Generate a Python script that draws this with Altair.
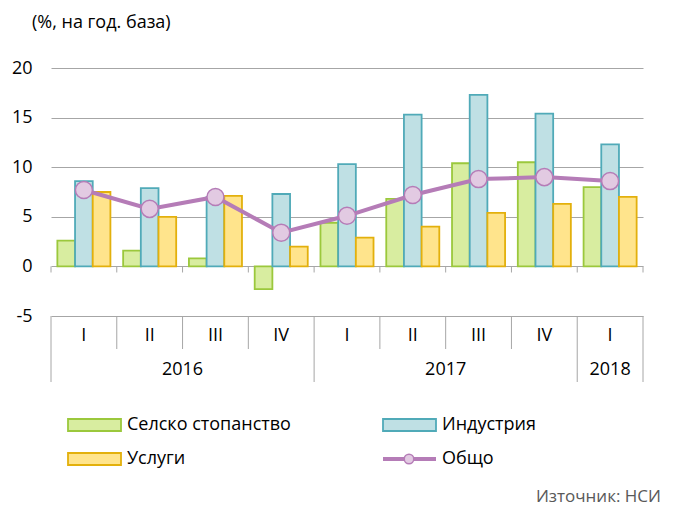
import altair as alt
import pandas as pd

# ---- data ----
quarters = ["I", "II", "III", "IV", "I", "II", "III", "IV", "I"]
years = ["2016", "2016", "2016", "2016", "2017", "2017", "2017", "2017", "2018"]
agriculture = [2.6, 1.6, 0.8, -2.3, 4.4, 6.8, 10.4, 10.5, 8.0]
industry = [8.6, 7.9, 7.0, 7.3, 10.3, 15.3, 17.3, 15.4, 12.3]
services = [7.5, 5.0, 7.1, 2.0, 2.9, 4.0, 5.4, 6.3, 7.0]
total = [7.7, 5.8, 7.0, 3.4, 5.1, 7.2, 8.8, 9.0, 8.6]
series_names = ["Селско стопанство", "Индустрия", "Услуги"]
total_name = "Общо"
y_ticks = [-5, 0, 5, 10, 15, 20]
title_text = "(%, на год. база)"
source_text = "Източник: НСИ"

# ---- styles ----
FONT = "Open Sans"
FS = 18
fills = ["#d8eda0", "#bfe0e4", "#ffe48c"]
strokes = ["#9bc83c", "#50aab8", "#e3b00c"]
line_color = "#b57cb7"
point_fill = "#e2cae2"
grid_color = "#a6a6a6"

cats = [f"{y}-{q}" for y, q in zip(years, quarters)]
vals = [agriculture, industry, services]

bars_df = pd.DataFrame(
    [{"cat": c, "series": s, "value": v[i]}
     for s, v in zip(series_names, vals) for i, c in enumerate(cats)]
)
total_df = pd.DataFrame({"cat": cats, "value": total})
cat_df = pd.DataFrame({"cat": cats, "quarter": quarters, "year": years})

x_scale = alt.Scale(domain=cats, paddingInner=0, paddingOuter=0)
xoff_scale = alt.Scale(domain=series_names, paddingInner=0, paddingOuter=0.36)
y_scale = alt.Scale(domain=[-5, 20], nice=False, zero=False)
y_axis = alt.Axis(values=y_ticks, grid=True, gridColor=grid_color, gridWidth=1,
                  domain=False, ticks=False, labelFontSize=FS, labelFont=FONT,
                  labelColor="#000000", labelPadding=19, title=None,
                  labelExpr="'' + datum.value")


def X(bp=0.5):
    return alt.X("cat:N", scale=x_scale, axis=None, bandPosition=bp)


def Y(field="value"):
    return alt.Y(f"{field}:Q", scale=y_scale, axis=y_axis)


bars = alt.Chart(bars_df).mark_bar(strokeWidth=1.8).encode(
    x=alt.X("cat:N", scale=x_scale, axis=None),
    xOffset=alt.XOffset("series:N", scale=xoff_scale),
    y=Y(),
    y2=alt.datum(0),
    fill=alt.Fill("series:N", scale=alt.Scale(domain=series_names, range=fills), legend=None),
    stroke=alt.Stroke("series:N", scale=alt.Scale(domain=series_names, range=strokes), legend=None),
)

line = alt.Chart(total_df).mark_line(color=line_color, strokeWidth=4).encode(
    x=X(), y=Y()
)
points = alt.Chart(total_df).mark_point(
    shape="circle", filled=True, fill=point_fill, stroke=line_color,
    strokeWidth=1.5, size=290, opacity=1
).encode(x=X(), y=Y())

# ticks on the zero line at category boundaries
ticks_a = alt.Chart(cat_df).mark_rule(color=grid_color).encode(
    x=X(0), y=alt.value(198.4), y2=alt.value(204.5)
)
ticks_b = alt.Chart(cat_df.tail(1)).mark_rule(color=grid_color).encode(
    x=X(1), y=alt.value(198.4), y2=alt.value(204.5)
)

# category table below the plot
q_sep = alt.Chart(cat_df[cat_df["quarter"] != "I"]).mark_rule(color=grid_color).encode(
    x=X(0), y=alt.value(248), y2=alt.value(281)
)
y_sep_a = alt.Chart(cat_df[cat_df["quarter"] == "I"]).mark_rule(color=grid_color).encode(
    x=X(0), y=alt.value(248), y2=alt.value(314)
)
y_sep_b = alt.Chart(cat_df.tail(1)).mark_rule(color=grid_color).encode(
    x=X(1), y=alt.value(248), y2=alt.value(314)
)
q_text = alt.Chart(cat_df).mark_text(fontSize=FS, font=FONT, color="#000000", baseline="middle").encode(
    x=X(), y=alt.value(268), text="quarter:N"
)
year_full = cat_df[cat_df["quarter"] == "III"]
year_text_a = alt.Chart(year_full).mark_text(fontSize=FS, font=FONT, color="#000000", baseline="middle").encode(
    x=X(0), y=alt.value(302), text="year:N"
)
year_part = cat_df[(cat_df["quarter"] == "I") & (cat_df["year"] == years[-1])]
year_text_b = alt.Chart(year_part).mark_text(fontSize=FS, font=FONT, color="#000000", baseline="middle").encode(
    x=X(0.5), y=alt.value(302), text="year:N"
)

# title and source
title = alt.Chart(pd.DataFrame({"t": [title_text]})).mark_text(
    fontSize=FS, font=FONT, color="#000000", align="left", baseline="middle"
).encode(x=alt.value(-19), y=alt.value(-45), text="t:N")
source = alt.Chart(pd.DataFrame({"t": [source_text]})).mark_text(
    fontSize=17, font=FONT, color="#595959", align="right", baseline="alphabetic"
).encode(x=alt.value(610), y=alt.value(434), text="t:N")

# legend (manual, 2 columns)
legend_layers = []
legend_pos = [(17, 357), (332, 357), (17, 391)]
for name, f, s, (lx, ly) in zip(series_names, fills, strokes, legend_pos):
    d = pd.DataFrame({"label": [name]})
    legend_layers.append(alt.Chart(d).mark_rect(fill=f, stroke=s, strokeWidth=1.8).encode(
        x=alt.value(lx), x2=alt.value(lx + 53), y=alt.value(ly - 6), y2=alt.value(ly + 6)))
    legend_layers.append(alt.Chart(d).mark_text(
        fontSize=FS, font=FONT, color="#000000", align="left", baseline="middle"
    ).encode(x=alt.value(lx + 59), y=alt.value(ly), text="label:N"))
dl = pd.DataFrame({"label": [total_name]})
legend_layers.append(alt.Chart(dl).mark_rule(color=line_color, strokeWidth=4).encode(
    x=alt.value(332), x2=alt.value(385), y=alt.value(391)))
legend_layers.append(alt.Chart(dl).mark_point(
    shape="circle", filled=True, fill=point_fill, stroke=line_color,
    strokeWidth=1.5, size=90, opacity=1).encode(x=alt.value(358), y=alt.value(391)))
legend_layers.append(alt.Chart(dl).mark_text(
    fontSize=FS, font=FONT, color="#000000", align="left", baseline="middle"
).encode(x=alt.value(391), y=alt.value(391), text="label:N"))

chart = alt.layer(
    bars, ticks_a, ticks_b, q_sep, y_sep_a, y_sep_b, q_text, year_text_a, year_text_b,
    line, points, title, source, *legend_layers
).properties(
    width=592, height=248,
    padding={"left": 43, "top": 60, "right": 22, "bottom": 193},
    autosize=alt.AutoSizeParams(type="none"),
).configure_view(stroke=None)

chart.save("out.html", embed_options={"renderer": "svg", "actions": False})
